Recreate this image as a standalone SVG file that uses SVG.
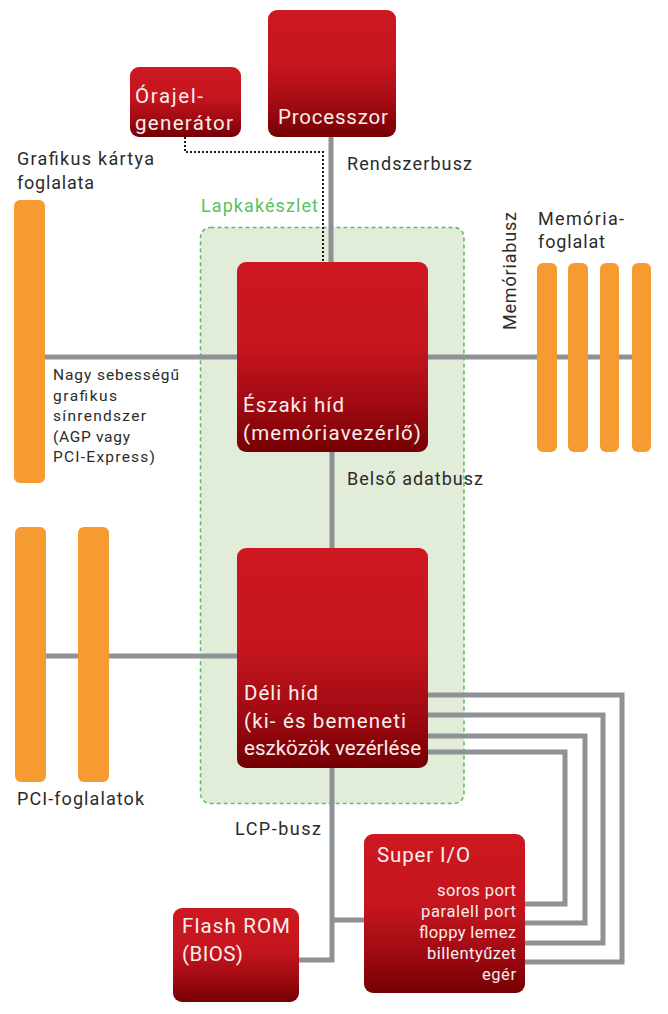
<svg xmlns="http://www.w3.org/2000/svg" width="668" height="1014" viewBox="0 0 668 1014">
<defs>
<linearGradient id="red" x1="0" y1="0" x2="0" y2="1">
<stop offset="0" stop-color="#cd1820"/>
<stop offset="0.45" stop-color="#c5151e"/>
<stop offset="0.75" stop-color="#a00a12"/>
<stop offset="1" stop-color="#740003"/>
</linearGradient>
<style>
.node{fill:url(#red);}
.slot{fill:#f59b31;}
.bus{stroke:#8e9196;stroke-width:5;fill:none;}
.dot{stroke:#1a1a1a;stroke-width:2;stroke-dasharray:2 2;fill:none;}
.nt{font-family:Roboto,"Liberation Sans",sans-serif;fill:#f7eeee;font-size:20.5px;}
.it{font-family:Roboto,"Liberation Sans",sans-serif;fill:#f7eeee;font-size:16.5px;text-anchor:end;}
.lb{font-family:Roboto,"Liberation Sans",sans-serif;fill:#2b2b2b;font-size:18px;}
.sm{font-family:Roboto,"Liberation Sans",sans-serif;fill:#2b2b2b;font-size:15.5px;}
</style>
</defs>
<rect width="668" height="1014" fill="#ffffff"/>
<g id="chipset">
<rect x="200.5" y="227.5" width="263.5" height="576" rx="10" fill="#e1edd8" stroke="#5cbf62" stroke-width="1.6" stroke-dasharray="4 3"/>
<text x="201" y="212" font-family="Roboto,'Liberation Sans',sans-serif" font-size="18" fill="#5cbf62" textLength="117">Lapkakészlet</text>
</g>
<g id="connectors">
<line class="bus" x1="331" y1="135" x2="331" y2="265"/>
<line class="bus" x1="40" y1="357" x2="240" y2="357"/>
<line class="bus" x1="425" y1="357" x2="640" y2="357"/>
<line class="bus" x1="332" y1="450" x2="332" y2="550"/>
<line class="bus" x1="40" y1="656" x2="240" y2="656"/>
<polyline class="bus" points="425,695 622,695 622,962 522,962"/>
<polyline class="bus" points="425,715 603,715 603,943 522,943"/>
<polyline class="bus" points="425,736 585,736 585,923 522,923"/>
<polyline class="bus" points="425,752 565,752 565,904 522,904"/>
<polyline class="bus" points="332,766 332,960 296,960"/>
<line class="bus" x1="332" y1="920" x2="367" y2="920"/>
<polyline class="dot" points="185,137 185,152 323,152 323,263"/>
</g>
<g id="labels">
<text class="lb" x="347" y="170" textLength="125">Rendszerbusz</text>
<text class="lb" x="347" y="485" textLength="136">Belső adatbusz</text>
<text class="lb" x="235" y="835" textLength="86">LCP-busz</text>
<text class="lb" x="17" y="165" textLength="137">Grafikus kártya</text>
<text class="lb" x="17" y="189" textLength="77">foglalata</text>
<text class="lb" x="538" y="225" textLength="86">Memória-</text>
<text class="lb" x="538" y="248" textLength="67">foglalat</text>
<text class="lb" transform="translate(516,330) rotate(-90)" textLength="118">Memóriabusz</text>
<text class="lb" x="17" y="805" textLength="127">PCI-foglalatok</text>
<text class="sm" x="53" y="380" textLength="126">Nagy sebességű</text>
<text class="sm" x="53" y="401" textLength="64">grafikus</text>
<text class="sm" x="53" y="421" textLength="93">sínrendszer</text>
<text class="sm" x="53" y="442" textLength="77">(AGP vagy</text>
<text class="sm" x="53" y="462" textLength="102">PCI-Express)</text>
</g>
<g id="graphics-slot"><rect class="slot" x="14" y="200" width="31" height="283" rx="6"/></g>
<g id="pci-slots">
<rect class="slot" x="15" y="527" width="31" height="255" rx="6"/>
<rect class="slot" x="78" y="527" width="31" height="255" rx="6"/>
</g>
<g id="memory-slots">
<rect class="slot" x="537" y="263" width="20" height="189" rx="6"/>
<rect class="slot" x="568" y="263" width="20" height="189" rx="6"/>
<rect class="slot" x="600" y="263" width="19" height="189" rx="6"/>
<rect class="slot" x="632" y="263" width="19" height="189" rx="6"/>
</g>
<g id="clock">
<rect class="node" x="130" y="67" width="111" height="70" rx="9"/>
<text class="nt" x="135" y="103" textLength="68">Órajel-</text>
<text class="nt" x="135" y="130" textLength="98">generátor</text>
</g>
<g id="cpu">
<rect class="node" x="268" y="10" width="128" height="127" rx="9"/>
<text class="nt" x="278" y="124" textLength="110">Processzor</text>
</g>
<g id="northbridge">
<rect class="node" x="237" y="262" width="191" height="190" rx="9"/>
<text class="nt" x="243" y="412" textLength="101">Északi híd</text>
<text class="nt" x="243" y="440" textLength="178">(memóriavezérlő)</text>
</g>
<g id="southbridge">
<rect class="node" x="237" y="548" width="191" height="220" rx="9"/>
<text class="nt" x="244" y="700" textLength="74">Déli híd</text>
<text class="nt" x="244" y="728" textLength="162">(ki- és bemeneti</text>
<text class="nt" x="244" y="755" textLength="177">eszközök vezérlése</text>
</g>
<g id="superio">
<rect class="node" x="364" y="834" width="161" height="159" rx="9"/>
<text class="nt" x="377" y="862" textLength="93">Super I/O</text>
<text class="it" x="516" y="896" textLength="79">soros port</text>
<text class="it" x="516" y="917" textLength="95">paralell port</text>
<text class="it" x="516" y="938" textLength="97">floppy lemez</text>
<text class="it" x="516" y="959" textLength="89">billentyűzet</text>
<text class="it" x="516" y="980" textLength="34">egér</text>
</g>
<g id="flashrom">
<rect class="node" x="173" y="908" width="126" height="94" rx="9"/>
<text class="nt" x="182" y="933" textLength="108">Flash ROM</text>
<text class="nt" x="182" y="961" textLength="61">(BIOS)</text>
</g>
</svg>
